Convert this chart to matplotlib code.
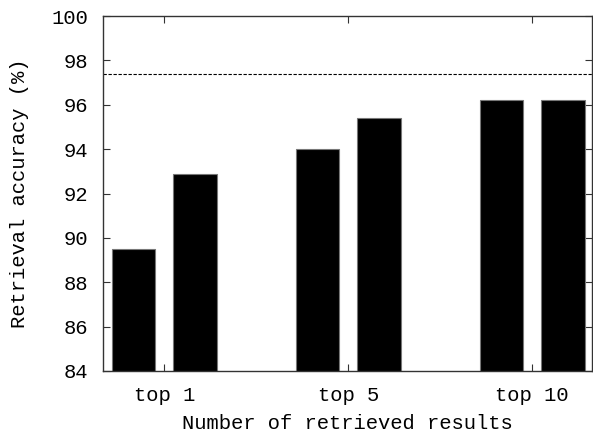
import numpy as np
import matplotlib.pyplot as plt

plt.rcParams['font.family'] = ['Liberation Mono', 'DejaVu Sans Mono']
plt.rcParams['font.size'] = 14.8

# data
groups = ['top 1', 'top 5', 'top 10']
method_a = [89.5, 94.0, 96.2]
method_b = [92.9, 95.4, 96.2]
baseline = 97.4
y_ticks = [84, 86, 88, 90, 92, 94, 96, 98, 100]

fig = plt.figure(figsize=(5.93, 4.32), dpi=100)
ax = fig.add_axes([103 / 593, 1 - 371 / 432, (592 - 103) / 593, (371 - 16) / 432])

x = np.arange(len(groups))
w = 0.2375
off = 0.1667
ax.bar(x - off, method_a, w, color='black', edgecolor='#777777', linewidth=0.8, zorder=2)
ax.bar(x + off, method_b, w, color='black', edgecolor='#777777', linewidth=0.8, zorder=2)
ax.axhline(baseline, color='black', linestyle=(0, (3, 1.5)), linewidth=0.8, zorder=3)

ax.set_xlim(-0.333, 2.325)
ax.set_ylim(84, 100)
ax.set_xticks(x)
ax.set_xticklabels(groups)
ax.set_yticks(y_ticks)
ax.tick_params(direction='in', length=5, width=0.8, top=True, right=True, color='#333333')
ax.tick_params(axis='x', pad=11)
ax.tick_params(axis='y', pad=11)
for s in ax.spines.values():
    s.set_linewidth(1.0)
    s.set_color('#333333')
    s.set_zorder(4)

ax.set_xlabel('Number of retrieved results', labelpad=6)
ax.set_ylabel('Retrieval accuracy (%)', labelpad=16)

fig.savefig('out.png', dpi=100)
